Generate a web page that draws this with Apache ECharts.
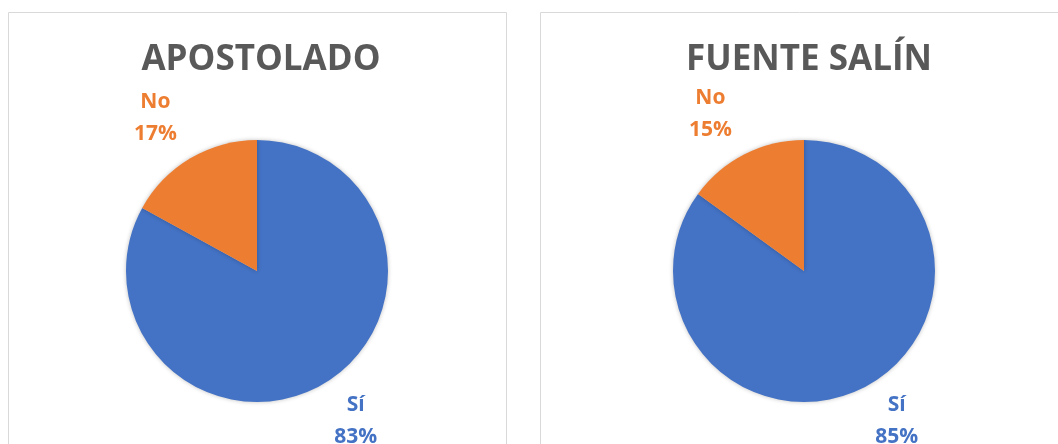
<!DOCTYPE html>
<html>
<head>
<meta charset="utf-8">
<script src="https://cdn.jsdelivr.net/npm/echarts@6/dist/echarts.min.js"></script>
<style>
  html, body { margin: 0; padding: 0; background: #fff; }
  #chart { width: 1058px; height: 444px; }
</style>
</head>
<body>
<div id="chart"></div>
<script>
// datos de cada gráfico
const titles = ['APOSTOLADO', 'FUENTE SALÍN']
const categories = ['Sí', 'No']
const apostolado = [83, 17]
const fuenteSalin = [85, 15]

const colors = ['#4472C4', '#ED7D31']
const font = '"Open Sans", "Liberation Sans", sans-serif'
const centers = [[257, 271], [804, 271]]
const titleX = [256, 804]
// pequeños ajustes de las etiquetas (como el "mejor ajuste" de Excel)
const labelOffsets = [
  [[6, -7], [-9, 4]],
  [[10, -12], [-11, 5]],
]

function toData(values, offsets) {
  return categories.map((name, i) => {
    const item = { name, value: values[i] }
    if (offsets) item.label = { color: colors[i], offset: offsets[i] }
    return item
  })
}

const myChart = echarts.init(document.querySelector('#chart'))

const series = []
;[apostolado, fuenteSalin].forEach((values, i) => {
  // tarta principal
  series.push({
    type: 'pie',
    center: centers[i],
    radius: 131,
    startAngle: 90,
    clockwise: true,
    silent: true,
    data: toData(values),
    label: { show: false },
    labelLine: { show: false },
    itemStyle: {
      shadowBlur: 4,
      shadowColor: 'rgba(0,0,0,0.25)',
    },
  })
  // serie transparente solo para colocar las etiquetas fuera de la tarta
  series.push({
    type: 'pie',
    center: centers[i],
    radius: [0, 358],
    startAngle: 90,
    clockwise: true,
    silent: true,
    avoidLabelOverlap: false,
    data: toData(values, labelOffsets[i]),
    itemStyle: { color: 'rgba(255,255,255,0)' },
    label: {
      show: true,
      position: 'inside',
      formatter: '{b}\n{c}%',
      fontFamily: font,
      fontWeight: 'bold',
      fontSize: 21,
      lineHeight: 32,
    },
    labelLine: { show: false },
  })
})

const option = {
  animation: false,
  color: colors,
  title: titles.map((text, i) => ({
    text,
    left: titleX[i],
    top: 38,
    textAlign: 'center',
    textStyle: {
      fontFamily: font,
      fontWeight: 'bold',
      fontSize: 35,
      color: '#595959',
    },
  })),
  // marcos de cada gráfico
  graphic: [
    {
      type: 'rect',
      shape: { x: 8.5, y: 12.5, width: 498, height: 460 },
      style: { fill: 'none', stroke: '#d9d9d9', lineWidth: 1 },
      silent: true,
    },
    {
      type: 'rect',
      shape: { x: 540.5, y: 12.5, width: 540, height: 460 },
      style: { fill: 'none', stroke: '#d9d9d9', lineWidth: 1 },
      silent: true,
    },
  ],
  series,
}
myChart.setOption(option)
</script>
</body>
</html>
